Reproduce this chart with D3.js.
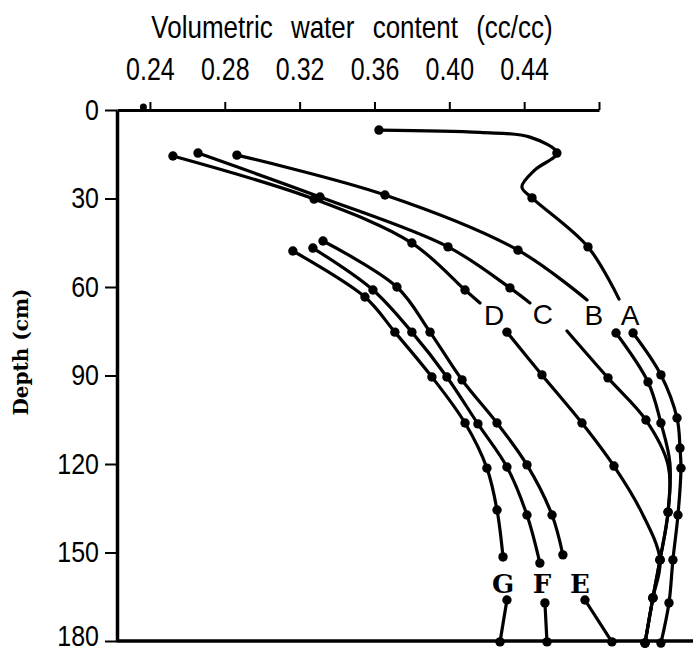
<!DOCTYPE html>
<html><head><meta charset="utf-8">
<script src="https://cdn.jsdelivr.net/npm/d3@7"></script>
<style>body{margin:0;background:#fff} svg{display:block}</style>
</head><body><svg id="c" width="693" height="651"></svg>
<script>
// ---- data (depth cm, volumetric water content cc/cc, marker 1/0) ----
const xTicks = [0.24, 0.28, 0.32, 0.36, 0.40, 0.44, 0.48];
const yTicks = [0, 30, 60, 90, 120, 150, 180];

const A_upper = [[6.8,0.3624,1],[7.6,0.4164,0],[9.2,0.4431,0],[14.6,0.4575,1],[20.3,0.4458,0],[26.1,0.4388,0],[29.8,0.4442,1],[46.4,0.4741,1],[64.1,0.4907,0]];
const A_lower = [[75.6,0.4982,1],[89.8,0.5131,1],[104.4,0.5217,1],[114.6,0.5233,1],[121.4,0.5238,1],[137.3,0.5222,1],[152.5,0.5195,1],[167.1,0.5174,1],[180.7,0.5131,1]];
const B_upper = [[15.3,0.2865,1],[28.8,0.3656,1],[47.5,0.4367,1],[64.4,0.4736,0]];
const B_lower = [[75.6,0.4891,1],[92.2,0.5062,1],[106.1,0.5131,1],[119.7,0.5179,0],[136.3,0.5169,1],[152.5,0.5126,1],[165.4,0.5088,1],[180.7,0.5046,1]];
const C_upper = [[14.6,0.2657,1],[29.5,0.3309,1],[46.4,0.3993,1],[60.3,0.4324,1],[65.4,0.4431,0]];
const C_lower = [[74.9,0.4629,0],[90.8,0.4848,1],[105.1,0.5051,1],[120.3,0.5169,0],[136.3,0.5169,1],[152.5,0.5126,1],[165.4,0.5088,1],[180.7,0.5046,1]];
const D_upper = [[15.6,0.2523,1],[30.2,0.3277,1],[45.1,0.3800,1],[61.0,0.4084,1],[65.4,0.4164,0]];
const D_lower = [[75.3,0.4308,1],[89.8,0.4495,1],[106.1,0.4709,1],[120.7,0.4880,1],[135.9,0.5024,0],[152.5,0.5126,1],[165.4,0.5088,1],[180.7,0.5046,1]];
const E_upper = [[44.4,0.3325,1],[60.0,0.3720,1],[75.3,0.3897,1],[91.5,0.4068,1],[106.1,0.4255,1],[120.3,0.4415,1],[137.3,0.4549,1],[150.8,0.4607,1]];
const E_lower = [[166.1,0.4725,1],[180.3,0.4869,1]];
const F_upper = [[46.8,0.3271,1],[61.0,0.3592,1],[75.3,0.3800,1],[90.5,0.3987,1],[106.4,0.4153,1],[121.0,0.4308,1],[137.3,0.4415,1],[153.6,0.4484,1]];
const F_lower = [[167.1,0.4511,1],[180.3,0.4522,1]];
const G_upper = [[47.8,0.3164,1],[63.4,0.3549,1],[75.3,0.3709,1],[90.5,0.3907,1],[106.1,0.4084,1],[121.4,0.4201,1],[135.6,0.4255,1],[151.5,0.4287,1]];
const G_lower = [[166.1,0.4308,1],[180.3,0.4271,1]];
const surfaceMark = [[0, 0.2365]];

const labelsSans = [["A",73,0.4966],["B",73,0.4773],["C",72.5,0.4500],["D",73,0.4239]];
const labelsSerif = [["G",163.6,0.4287],["F",163.6,0.4495],["E",163.6,0.4698]];

// ---- drawing ----
const svg = d3.select("#c");
const x = d3.scaleLinear().domain([0.2224, 0.48]).range([117, 599]);
const y = d3.scaleLinear().domain([0, 180]).range([110, 641]);
const SANS = "Liberation Sans, Arial, sans-serif";

const allSeries = [A_upper, A_lower, B_upper, B_lower, C_upper, C_lower, D_upper, D_lower,
  E_upper, E_lower, F_upper, F_lower, G_upper, G_lower];

const line = d3.line().x(d => x(d[1])).y(d => y(d[0])).curve(d3.curveCatmullRom.alpha(0.5));

svg.append("g").selectAll("path").data(allSeries).join("path")
  .attr("d", line).attr("fill", "none").attr("stroke", "#000").attr("stroke-width", 3.2)
  .attr("stroke-linecap", "round").attr("stroke-linejoin", "round");

svg.append("g").selectAll("circle")
  .data(allSeries.flat().filter(d => d[2] === 1)).join("circle")
  .attr("cx", d => x(d[1])).attr("cy", d => y(d[0])).attr("r", 4.7).attr("fill", "#000");

svg.append("g").selectAll("circle").data(surfaceMark).join("circle")
  .attr("cx", d => x(d[1])).attr("cy", d => y(d[0]) - 3).attr("r", 3.5).attr("fill", "#000");

// top axis
const xa = svg.append("g").attr("transform", `translate(0,${y(0)})`)
  .call(d3.axisTop(x).tickValues(xTicks).tickSize(8).tickSizeOuter(0)
    .tickFormat(d => d < 0.47 ? d3.format(".2f")(d) : ""));
xa.select(".domain").attr("stroke-width", 3);
xa.selectAll(".tick line").attr("stroke-width", 2);
xa.selectAll("text").attr("font-family", SANS).attr("font-size", 25).attr("fill", "#000")
  .attr("y", 0).attr("transform", "translate(0,-30) scale(1,1.22)");

// left axis
const ya = svg.append("g").attr("transform", `translate(${x.range()[0]},0)`)
  .call(d3.axisLeft(y).tickValues(yTicks).tickSize(12).tickSizeOuter(0));
ya.select(".domain").attr("stroke-width", 3.5);
ya.selectAll(".tick line").attr("stroke-width", 2);
ya.selectAll("text").attr("font-family", SANS).attr("font-size", 25).attr("fill", "#000")
  .attr("x", 0).attr("dy", "0.3em")
  .attr("transform", d => `translate(-18,${d === 180 ? -5 : 0}) scale(1,1.2)`);

// bottom baseline
svg.append("line").attr("x1", x.range()[0]).attr("x2", 693)
  .attr("y1", y(180)).attr("y2", y(180)).attr("stroke", "#000").attr("stroke-width", 3.5);

// titles
svg.append("text").attr("transform", "translate(352,38) scale(1,1.18)").attr("text-anchor", "middle")
  .attr("font-family", SANS).attr("font-size", 26)
  .attr("word-spacing", 11).text("Volumetric water content (cc/cc)");
svg.append("text").attr("transform", "translate(28,352) rotate(-90)").attr("text-anchor", "middle")
  .attr("font-family", "DejaVu Serif, serif").attr("font-weight", "bold").attr("font-size", 20)
  .text("Depth (cm)");

// curve labels
svg.append("g").selectAll("text").data(labelsSans).join("text")
  .attr("x", d => x(d[2])).attr("y", d => y(d[1])).attr("text-anchor", "middle")
  .attr("font-family", SANS).attr("font-size", 28).text(d => d[0]);
svg.append("g").selectAll("text").data(labelsSerif).join("text")
  .attr("x", d => x(d[2])).attr("y", d => y(d[1])).attr("text-anchor", "middle")
  .attr("font-family", "DejaVu Serif, serif").attr("font-weight", "bold").attr("font-size", 26).text(d => d[0]);
</script></body></html>
